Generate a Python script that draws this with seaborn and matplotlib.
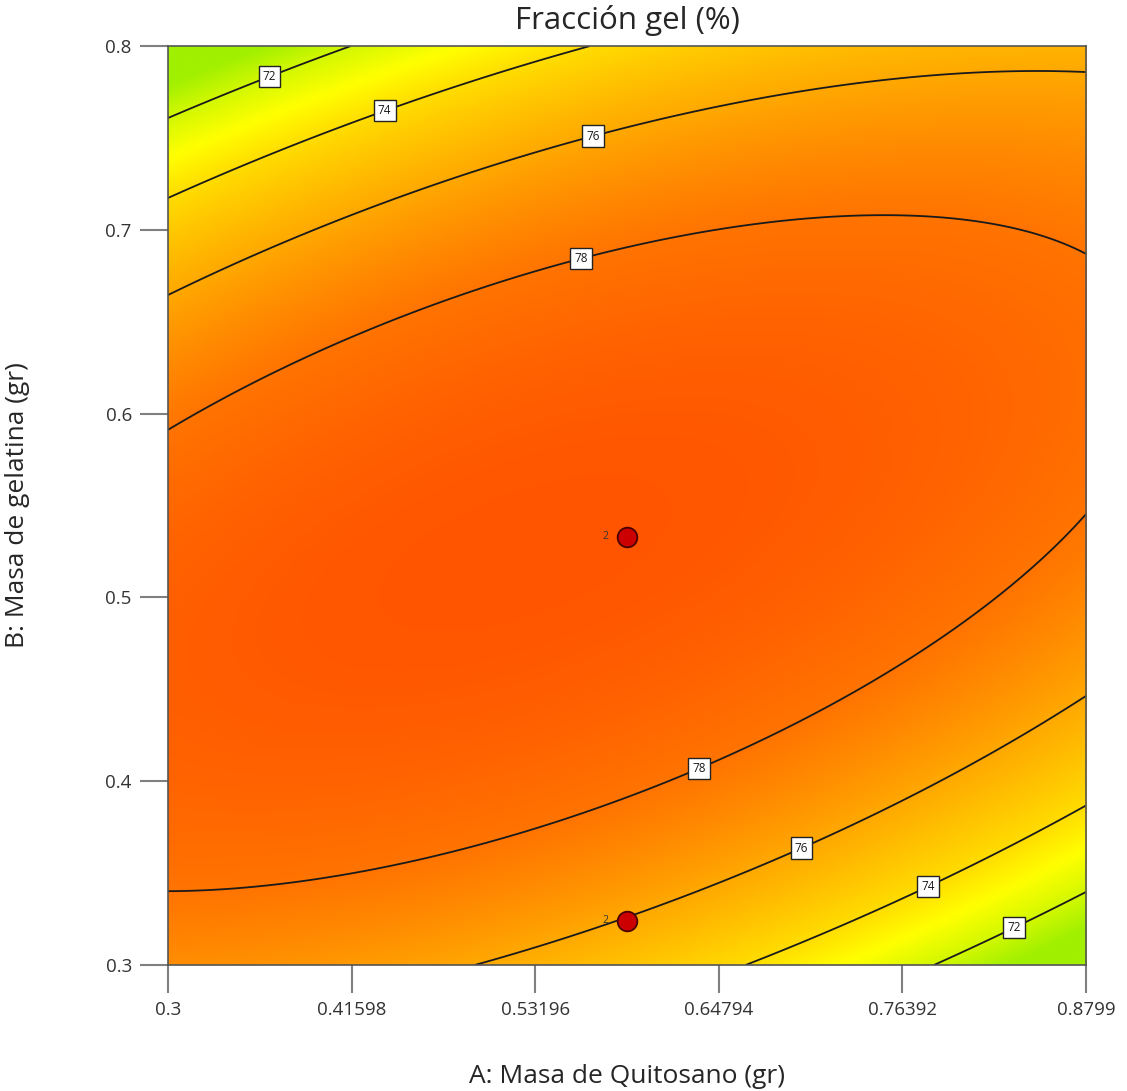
import numpy as np
import seaborn as sns
import matplotlib.pyplot as plt
from matplotlib.colors import LinearSegmentedColormap

sns.set_style("white")
plt.rcParams['font.family'] = ['Open Sans', 'DejaVu Sans']

# modelo cuadratico (factores codificados -1..1): b0, A, B, AB, A^2, B^2
coef = [79.875, -0.336, -0.383, 3.162, -1.485, -5.254]
a_rng = [0.3, 0.8799]
b_rng = [0.3, 0.8]

levels = [72, 74, 76, 78]
a_ticks = [0.3, 0.41598, 0.53196, 0.64794, 0.76392, 0.8799]
b_ticks = [0.3, 0.4, 0.5, 0.6, 0.7, 0.8]

# puntos del diseno (replicas)
pt_a = [0.58995, 0.58995]
pt_b = [0.533, 0.324]
pt_n = ["2", "2"]

# posiciones de las etiquetas de las curvas
lab_pos = [(0.363, 0.786), (0.436, 0.767), (0.568, 0.753), (0.56, 0.687),
           (0.634, 0.41), (0.699, 0.366), (0.779, 0.345), (0.833, 0.323)]


def modelo(a, b):
    u = (a - np.mean(a_rng)) / (np.diff(a_rng)[0] / 2)
    v = (b - np.mean(b_rng)) / (np.diff(b_rng)[0] / 2)
    return (coef[0] + coef[1] * u + coef[2] * v + coef[3] * u * v
            + coef[4] * u * u + coef[5] * v * v)


ga = np.linspace(a_rng[0], a_rng[1], 400)
gb = np.linspace(b_rng[0], b_rng[1], 400)
A, B = np.meshgrid(ga, gb)
Z = modelo(A, B)

cmap = LinearSegmentedColormap.from_list("dx", [
    (0.0, "#a0f000"), (1 / 8.9, "#d4f800"), (2 / 8.9, "#ffff00"),
    (3 / 8.9, "#ffdc00"), (5 / 8.9, "#ffa800"), (7 / 8.9, "#ff7400"),
    (1.0, "#ff5500")])

fig, ax = plt.subplots(figsize=(11.27, 10.91), dpi=100)
fig.subplots_adjust(left=0.149, right=0.9636, bottom=0.1155, top=0.9578)

ax.imshow(Z, extent=[a_rng[0], a_rng[1], b_rng[0], b_rng[1]], origin="lower",
          aspect="auto", cmap=cmap, vmin=71.0, vmax=79.9, interpolation="bilinear")
cs = ax.contour(A, B, Z, levels=levels, colors="#1a1a1a", linewidths=1.3)
txts = ax.clabel(cs, fmt="%d", fontsize=8.5, inline=False, manual=lab_pos)
for t in txts:
    t.set_rotation(0)
    t.set_bbox(dict(boxstyle="square,pad=0.35", fc="white", ec="#222222", lw=1))

sns.scatterplot(x=pt_a, y=pt_b, ax=ax, s=200, color="#cc0000",
                edgecolor="#4a0000", linewidth=1.3, zorder=5, legend=False)
for a, b, n in zip(pt_a, pt_b, pt_n):
    ax.text(a - 0.012, b, n, fontsize=7.5, ha="right", va="center", color="#333333")

ax.set_xlim(a_rng)
ax.set_ylim(b_rng)
ax.set_xticks(a_ticks)
ax.set_xticklabels([str(t) for t in a_ticks])
ax.set_yticks(b_ticks)
ax.set_yticklabels([str(t) for t in b_ticks])
ax.tick_params(axis="both", length=20, width=1.5, color="#808080",
               labelsize=13.5, labelcolor="#333333", pad=6, direction="out")
ax.tick_params(bottom=True, left=True)
for s in ax.spines.values():
    s.set_color("#555555")
    s.set_linewidth(1.2)

ax.set_title("Fracción gel (%)", fontsize=22.5, pad=12)
ax.set_xlabel("A: Masa de Quitosano (gr)", fontsize=19)
ax.set_ylabel("B: Masa de gelatina (gr)", fontsize=19)
ax.xaxis.set_label_coords(0.5, -0.108)
ax.yaxis.set_label_coords(-0.150, 0.5)

fig.savefig("out.png", dpi=100)
